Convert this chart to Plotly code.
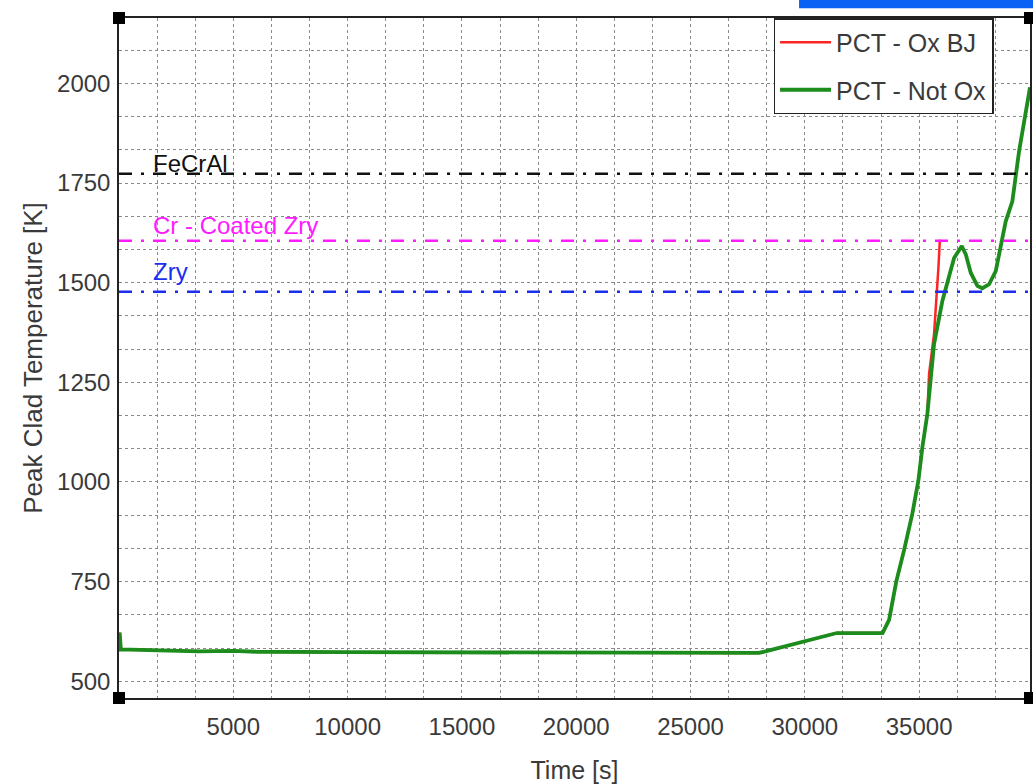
import plotly.graph_objects as go

# ---- data ----
t_notox = [0, 30, 80, 1000, 2500, 3500, 5000, 6000, 10000, 15000, 20000, 25000, 28000,
           31400, 33400, 33686, 34000, 34342, 34706, 34968, 35142, 35361, 35510, 35653,
           36017, 36310, 36529, 36865, 37040, 37258, 37548, 37767, 38060, 38352, 38570,
           38788, 39078, 39370, 39850]
T_notox = [575, 622, 580, 579, 577, 575, 576, 574, 573, 572, 571, 571, 571,
           621, 621, 654, 750, 829, 921, 1004, 1087, 1171, 1254, 1346,
           1454, 1512, 1562, 1592, 1571, 1525, 1492, 1486, 1496, 1529, 1596,
           1654, 1704, 1829, 1990]

t_oxbj = [0, 30, 80, 1000, 2500, 3500, 5000, 6000, 10000, 15000, 20000, 25000, 28000,
          31400, 33400, 33686, 34000, 34342, 34706, 34968, 35142, 35361, 35435, 35653,
          35755, 35843, 35904, 35910]
T_oxbj = [575, 622, 580, 579, 577, 575, 576, 574, 573, 572, 571, 571, 571,
          621, 621, 654, 750, 829, 921, 1004, 1087, 1171, 1271, 1371,
          1454, 1537, 1604, 1608]

limit_names = ["FeCrAl", "Cr - Coated Zry", "Zry"]
limit_values = [1773, 1605, 1477]
limit_colors = ["#111111", "#ff1aff", "#1a2ef0"]
label_yshift = [-5, 0, 5]

x_ticks = [5000, 10000, 15000, 20000, 25000, 30000, 35000]
x_ticktext = [str(v) for v in x_ticks]
y_ticks = [500, 750, 1000, 1250, 1500, 1750, 2000]
y_ticktext = [str(v) for v in y_ticks]
x_range = [0, 39850]
y_range = [458, 2164]

FONT = "Liberation Sans, Arial, sans-serif"
TXT = "#3a3a3a"
FS = 24

fig = go.Figure()

fig.add_trace(go.Scatter(x=t_oxbj, y=T_oxbj, mode="lines", name="PCT - Ox BJ",
                         line=dict(color="#ff2424", width=2.5), legendgroup="a"))
fig.add_trace(go.Scatter(x=t_notox, y=T_notox, mode="lines", name="PCT - Not Ox",
                         line=dict(color="#1c8c1c", width=3.8), legendgroup="b"))

for name, val, col, ys in zip(limit_names, limit_values, limit_colors, label_yshift):
    fig.add_trace(go.Scatter(x=x_range, y=[val, val], mode="lines", showlegend=False,
                             line=dict(color=col, width=2.5, dash="13px,9px,3px,9px"),
                             hoverinfo="skip"))
    fig.add_annotation(x=1400, y=val, text=name, showarrow=False, xanchor="left",
                       yanchor="bottom", yshift=ys,
                       font=dict(family=FONT, size=FS, color=col))

grid = dict(showgrid=True, gridcolor="#8a8a8a", gridwidth=1, griddash="dot")

fig.update_xaxes(range=x_range, tickvals=x_ticks, ticktext=x_ticktext, ticks="", **grid,
                 minor=dict(dtick=5000 / 3, tick0=0, showgrid=True, gridcolor="#8a8a8a",
                            griddash="dot", gridwidth=1),
                 showline=True, linecolor="#222", linewidth=1.5, mirror=True,
                 zeroline=False, ticklabelstandoff=6, automargin=False,
                 tickfont=dict(family=FONT, size=FS, color=TXT),
                 title=dict(text="Time [s]", font=dict(family=FONT, size=FS + 1, color=TXT),
                            standoff=25))
fig.update_yaxes(range=y_range, tickvals=y_ticks, ticktext=y_ticktext, ticks="", **grid,
                 minor=dict(dtick=250 / 3, tick0=500, showgrid=True, gridcolor="#8a8a8a",
                            griddash="dot", gridwidth=1),
                 showline=True, linecolor="#222", linewidth=1.5, mirror=True,
                 zeroline=False, ticklabelstandoff=2, automargin=False,
                 tickfont=dict(family=FONT, size=FS, color=TXT),
                 title=dict(text="Peak Clad Temperature [K]",
                            font=dict(family=FONT, size=FS + 2, color=TXT), standoff=7))

# corner squares
for cx, cy in [(0, 0), (0, 1), (1, 0), (1, 1)]:
    fig.add_shape(type="rect", xref="paper", yref="paper", xsizemode="pixel",
                  ysizemode="pixel", xanchor=cx, yanchor=cy, x0=-6, x1=6, y0=-6, y1=6,
                  fillcolor="black", line=dict(width=0), layer="above")

# blue bar at top right
fig.add_shape(type="rect", xref="paper", yref="paper", x0=0.7465, x1=1.01,
              y0=1.0145, y1=1.03, fillcolor="#0a62f5", line=dict(width=0))

fig.update_layout(
    width=1033, height=784,
    margin=dict(l=119, r=3, t=18, b=86),
    paper_bgcolor="white", plot_bgcolor="white",
    font=dict(family=FONT, color=TXT),
    legend=dict(x=0.7185, y=1, xanchor="left", yanchor="top",
                bgcolor="white", bordercolor="#222", borderwidth=1.5,
                font=dict(family=FONT, size=25, color=TXT),
                tracegroupgap=12, itemwidth=51),
    showlegend=True,
)

fig.write_html("out.html")
